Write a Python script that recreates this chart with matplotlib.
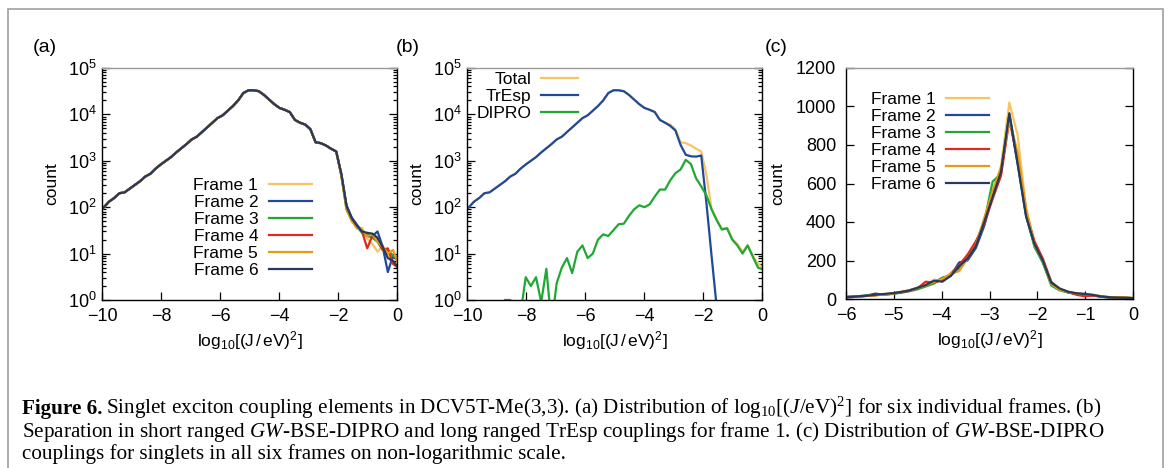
import numpy as np
import matplotlib
matplotlib.use('Agg')
import matplotlib.pyplot as plt
from matplotlib.patches import Rectangle

plt.rcParams['font.family'] = ['Liberation Sans', 'DejaVu Sans']
plt.rcParams['mathtext.fontset'] = 'custom'
plt.rcParams['mathtext.rm'] = 'Liberation Serif'
plt.rcParams['mathtext.it'] = 'Liberation Serif:italic'
plt.rcParams['mathtext.bf'] = 'Liberation Serif:bold'
plt.rcParams['mathtext.default'] = 'regular'

# bin centres of the log10[(J/eV)^2] histogram (59 bins, width 0.175)
x_bins = np.round(-10.11 + 0.175 * np.arange(59), 3)

# counts shared by all frames up to x = -2.06 (bins 0..46)
body = [79, 100, 132, 158, 200, 209, 251, 302, 363, 457, 525, 676, 832, 1000,
        1202, 1514, 1862, 2291, 2884, 3311, 4169, 5248, 6607, 8318, 9550,
        12020, 15140, 19950, 28840, 33110, 33110, 31620, 26300, 20890, 16600,
        13800, 12590, 11220, 7590, 6610, 6030, 4790, 2510, 2400, 2140, 1820,
        1585]
# tails of each frame (bins 47..58)
tail_1 = [500, 92, 55, 34, 36, 21, 16, 11, 15, 9, 6, 5]
tail_2 = [520, 110, 60, 42, 30, 26, 24, 30, 14, 4, 9, 7]
tail_3 = [480, 88, 52, 38, 28, 24, 22, 18, 12, 12, 9, 8]
tail_4 = [490, 100, 56, 40, 30, 13, 24, 20, 12, 13, 6, 5]
tail_5 = [470, 90, 50, 36, 32, 24, 26, 18, 14, 10, 12, 6]
tail_6 = [510, 105, 58, 40, 30, 28, 27, 22, 14, 8, 7, 5]
tails = [tail_1, tail_2, tail_3, tail_4, tail_5, tail_6]

# panel (b), frame 1 split
tresp_tail = [5650, 4500, 2200, 1350, 1250, 1230, 1300, 125, 9, 0.7,
              np.nan, np.nan, np.nan, np.nan, np.nan, np.nan, np.nan, np.nan, np.nan]
dipro = [np.nan] * 8 + [1, 1, np.nan, 0.5, 3.1, 2.0, 3.1, 0.9, 4.7, 0.3, 2.3, 5,
                        8, 3.8, 11, 15, 8, 10, 20, 26, 24, 32, 43, 44, 65, 90,
                        110, 100, 115, 170, 240, 240, 380, 540, 650, 1050, 850,
                        420, 280, 180, 90, 52, 33, 35, 20, 15, 10, 15, 8.5, 5, 4.5]

# panel (c), DIPRO couplings per frame (bins 23..58)
c_frame_1 = [9, 11, 14, 17, 20, 25, 29, 36, 44, 58, 75, 100, 95, 135, 175, 230, 290, 410,
             560, 690, 1020, 850, 470, 290, 200, 85, 52, 36, 28, 22, 19, 13, 10, 8, 6, 4]
c_frame_2 = [8, 12, 15, 18, 28, 22, 27, 34, 42, 55, 68, 85, 110, 120, 190, 200, 265, 380,
             540, 660, 950, 700, 430, 280, 190, 80, 50, 34, 27, 26, 20, 12, 8, 6, 5, 3]
c_frame_3 = [12, 12, 14, 17, 20, 24, 26, 32, 40, 50, 65, 80, 110, 125, 160, 215, 290, 400,
             610, 650, 960, 720, 440, 270, 190, 70, 45, 34, 26, 22, 18, 11, 8, 7, 6, 5]
c_frame_4 = [8, 10, 13, 16, 20, 24, 28, 35, 42, 55, 90, 85, 100, 130, 175, 230, 300, 390,
             520, 640, 930, 730, 450, 300, 210, 90, 52, 38, 22, 14, 18, 12, 9, 7, 6, 4]
c_frame_5 = [10, 11, 13, 16, 19, 23, 28, 37, 45, 57, 70, 88, 105, 130, 145, 210, 280, 420,
             560, 680, 930, 760, 470, 280, 200, 78, 48, 36, 30, 25, 22, 14, 10, 8, 7, 5]
c_frame_6 = [9, 10, 14, 17, 22, 26, 30, 36, 44, 58, 72, 95, 90, 120, 170, 210, 275, 400,
             530, 660, 965, 700, 430, 285, 200, 85, 55, 38, 30, 26, 21, 13, 9, 7, 6, 4]
c_frames = [c_frame_1, c_frame_2, c_frame_3, c_frame_4, c_frame_5, c_frame_6]

labels = ['Frame 1', 'Frame 2', 'Frame 3', 'Frame 4', 'Frame 5', 'Frame 6']
colors = ['#f8c461', '#1f4a9b', '#1fa834', '#e3281d', '#e99a12', '#263a5e']
xlab = r'log$_{10}$[(J$\,$/$\,$eV)$^{2}$]'

fig = plt.figure(figsize=(11.7, 4.68), dpi=100)
W, H = 1170.0, 468.0


def make_ax(l, t, r, b):
    ax = fig.add_axes([l / W, 1 - b / H, (r - l) / W, (b - t) / H])
    ax.spines['top'].set_color('#9a9a9a')
    for s in ax.spines.values():
        s.set_linewidth(1.0)
    ax.tick_params(which='both', direction='in', right=True, top=False,
                   labelsize=13, width=0.9)
    ax.tick_params(which='major', length=6)
    ax.tick_params(which='minor', length=3)
    ax.tick_params(axis='x', pad=6)
    return ax


leg_kw = dict(frameon=False, markerfirst=False, fontsize=12.5, borderpad=0,
              borderaxespad=0, handletextpad=0.6, labelspacing=0.1)

# (a)
ax = make_ax(102, 68, 397, 300)
for tail, lab, col in zip(tails, labels, colors):
    ax.plot(x_bins, body + tail, color=col, lw=1.6, label=lab)
ax.set_yscale('log')
ax.set_xlim(-10, 0)
ax.set_ylim(1, 1e5)
ax.set_xticks(np.arange(-10, 1, 2))
ax.tick_params(axis='y', pad=4)
ax.set_xlabel(xlab, fontsize=12.5, labelpad=3)
ax.set_ylabel('count', fontsize=12.5, labelpad=6)
ax.legend(loc='center right', bbox_to_anchor=(0.712, 0.31), handlelength=2.5, **leg_kw)

# (b)
ax = make_ax(467, 68, 762, 300)
total = body + tail_1
tresp = body[:40] + tresp_tail
ax.plot(x_bins, total, color=colors[0], lw=1.6, label='Total')
ax.plot(x_bins, tresp, color=colors[1], lw=1.6, label='TrEsp')
ax.plot(x_bins, dipro, color=colors[2], lw=1.6, label='DIPRO')
ax.set_yscale('log')
ax.set_xlim(-10, 0)
ax.set_ylim(1, 1e5)
ax.set_xticks(np.arange(-10, 1, 2))
ax.tick_params(axis='y', pad=4)
ax.set_xlabel(xlab, fontsize=12.5, labelpad=3)
ax.set_ylabel('count', fontsize=12.5, labelpad=6)
ax.legend(loc='center right', bbox_to_anchor=(0.376, 0.876), handlelength=2.1, **leg_kw)

# (c)
ax = make_ax(846, 68, 1133, 299)
for vals, lab, col in zip(c_frames, labels, colors):
    ax.plot(x_bins[23:], vals, color=col, lw=1.6, label=lab)
ax.set_xlim(-6, 0)
ax.set_ylim(0, 1200)
ax.set_xticks(np.arange(-6, 1, 1))
ax.set_yticks(np.arange(0, 1201, 200))
ax.tick_params(axis='y', pad=7)
ax.set_xlabel(xlab, fontsize=12.5, labelpad=3)
ax.set_ylabel('count', fontsize=12.5, labelpad=8)
ax.legend(loc='center right', bbox_to_anchor=(0.499, 0.68), handlelength=2.5, **leg_kw)

# panel letters
for x, s in [(33, '(a)'), (396, '(b)'), (765, '(c)')]:
    fig.text(x / W, 1 - 47 / H, s, fontsize=14, va='center')

# page frame
fig.add_artist(Rectangle((8 / W, -0.05), 1155 / W, 1.05 - 9 / H, transform=fig.transFigure,
                         fill=False, edgecolor='#a0a0a0', lw=1.2))

# caption
cap_kw = dict(family='Liberation Serif', fontsize=15.2, va='baseline')
t0 = fig.text(22 / W, 1 - 414 / H, 'Figure 6.', fontweight='bold', **cap_kw)
fig.canvas.draw()
bb = t0.get_window_extent(fig.canvas.get_renderer())
fig.text(bb.x1 / W + 4 / W, 1 - 414 / H,
         r'Singlet exciton coupling elements in DCV5T-Me(3,3). (a) Distribution of '
         r'log$_{10}$[($\mathit{J}$/eV)$^{2}$] for six individual frames. (b)', **cap_kw)
fig.text(22 / W, 1 - 437 / H,
         r'Separation in short ranged $\mathit{GW}$-BSE-DIPRO and long ranged TrEsp couplings '
         r'for frame 1. (c) Distribution of $\mathit{GW}$-BSE-DIPRO', **cap_kw)
fig.text(22 / W, 1 - 459 / H,
         'couplings for singlets in all six frames on non-logarithmic scale.', **cap_kw)

fig.savefig('out.png', dpi=100)
